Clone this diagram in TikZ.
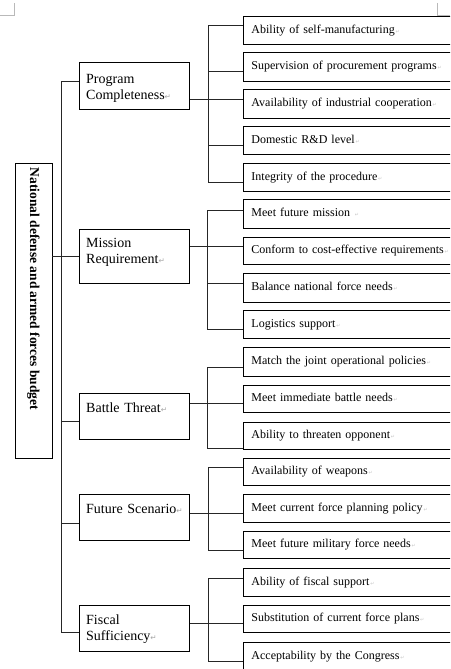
\documentclass[tikz,border=0pt]{standalone}
\usepackage{fontspec}
\setmainfont{Liberation Serif}
\newfontfamily\markfont{DejaVu Sans}
% paragraph and cell end marks
\newcommand{\parmark}{{\markfont\fontsize{7.5}{7.5}\selectfont\color{gray!70}↵}}
\newcommand{\cellmark}{{\markfont\fontsize{5}{5}\selectfont\color{gray!45}\,↵}}
\tikzset{
  rootbox/.style={draw, line width=0.9pt, inner sep=0pt, minimum width=37pt, minimum height=295pt},
  roottext/.style={rotate=-90, anchor=west, inner sep=0pt, font=\bfseries\fontsize{13.5}{15}\selectfont},
  catbox/.style={draw, line width=0.9pt, anchor=north west, inner sep=0pt, minimum width=110pt},
  cattext/.style={anchor=base west, inner sep=0pt, text width=100pt, align=left, font=\fontsize{14}{16.5}\selectfont},
  leafbox/.style={draw, line width=0.9pt, anchor=north west, text width=204pt, align=left,
    inner xsep=8pt, inner ysep=0pt, text height=8.5pt, text depth=2.5pt,
    font=\fontsize{12}{14}\selectfont},
  link/.style={draw=black!85, line width=0.8pt},
  cornermark/.style={draw=gray!55, line width=0.8pt}
}
\begin{document}
\begin{tikzpicture}[x=1pt, y=-1pt]
\useasboundingbox (0,0) rectangle (450,669);
\clip (0,0) rectangle (450,669);

% page corner marks
\draw[cornermark] (0,15) -- (14.5,15) -- (14.5,3);
\draw[cornermark] (437,3) -- (437,15.5) -- (450,15.5);

% root
\node[rootbox] (root) at (33.5,310.5) {};
\node[roottext] (rootlabel) at ([yshift=-5pt]root.north) {National defense and armed forces budget};

% categories
\node[catbox, minimum height=47pt] (pc) at (79,62) {};
\node[cattext] (pct) at (86,83) {Program\\Completeness\parmark};
\node[catbox, minimum height=54pt] (mr) at (79,229) {};
\node[cattext] (mrt) at (86,247) {Mission\\Requirement\parmark};
\node[catbox, minimum height=46pt] (bt) at (79,393) {};
\node[cattext] (btt) at (86,412) {Battle Threat\parmark};
\node[catbox, minimum height=46pt] (fs) at (79,494) {};
\node[cattext] (fst) at (86,513) {Future Scenario\parmark};
\node[catbox, minimum height=46pt] (fi) at (79,605) {};
\node[cattext] (fit) at (86,624) {Fiscal\\Sufficiency\parmark};

% leaves: program completeness
\node[leafbox, minimum height=28pt] (p1) at (243,16)  {Ability of self-manufacturing\cellmark};
\node[leafbox, minimum height=29pt] (p2) at (243,52)  {Supervision of procurement programs\cellmark};
\node[leafbox, minimum height=29pt] (p3) at (243,89)  {Availability of industrial cooperation\cellmark};
\node[leafbox, minimum height=28pt] (p4) at (243,126) {Domestic R\&D level\cellmark};
\node[leafbox, minimum height=28pt] (p5) at (243,163) {Integrity of the procedure\cellmark};
% leaves: mission requirement
\node[leafbox, minimum height=29pt] (m1) at (243,199) {Meet future mission \cellmark};
\node[leafbox, minimum height=27pt] (m2) at (243,237) {Conform to cost-effective requirements\cellmark};
\node[leafbox, minimum height=29pt] (m3) at (243,273) {Balance national force needs\cellmark};
\node[leafbox, minimum height=28pt] (m4) at (243,310) {Logistics support\cellmark};
% leaves: battle threat
\node[leafbox, minimum height=29pt] (b1) at (243,347) {Match the joint operational policies\cellmark};
\node[leafbox, minimum height=27pt] (b2) at (243,385) {Meet immediate battle needs\cellmark};
\node[leafbox, minimum height=27pt] (b3) at (243,422) {Ability to threaten opponent\cellmark};
% leaves: future scenario
\node[leafbox, minimum height=27pt] (f1) at (243,458) {Availability of weapons\cellmark};
\node[leafbox, minimum height=28pt] (f2) at (243,494) {Meet current force planning policy\cellmark};
\node[leafbox, minimum height=27pt] (f3) at (243,531) {Meet future military force needs\cellmark};
% leaves: fiscal sufficiency
\node[leafbox, minimum height=28pt] (s1) at (243,568) {Ability of fiscal support\cellmark};
\node[leafbox, minimum height=27pt] (s2) at (243,605) {Substitution of current force plans\cellmark};
\node[leafbox, minimum height=28pt] (s3) at (243,642) {Acceptability by the Congress\cellmark};

% trunk from root to categories
\draw[link] (root.east |- mr.west) -- (mr.west);
\draw[link] ([yshift=4.5pt]pc.west) -- ++(-18,0) |- ([yshift=-4pt]fi.west);
\draw[link] ([yshift=-5pt]bt.west) -- ++(-18,0);
\draw[link] ([yshift=-6pt]fs.west) -- ++(-18,0);

% program completeness bracket
\draw[link] ([yshift=-13.5pt]pc.east) coordinate (pcR) -- (pcR -| p3.west);
\draw[link] ([yshift=5pt]p1.west) -- ++(-35,0) |- ([yshift=-5pt]p5.west);
\draw[link] ([yshift=-4.5pt]p2.west) -- ++(-35,0);
\draw[link] ([yshift=-5pt]p4.west) -- ++(-35,0);

% mission requirement bracket
\draw[link] ([yshift=10pt]mr.east) coordinate (mrR) -- (mrR -| m2.west);
\draw[link] ([yshift=3.5pt]m1.west) -- ++(-36,0) |- ([yshift=-5pt]m4.west);
\draw[link] ([yshift=4.5pt]m3.west) -- ++(-36,0);

% battle threat bracket
\draw[link] ([yshift=13pt]bt.east) coordinate (btR) -- (btR -| b2.west);
\draw[link] ([yshift=-5.5pt]b1.west) -- ++(-36,0) |- ([yshift=-12.5pt]b3.west);

% future scenario bracket
\draw[link] ([yshift=4pt]fs.east) coordinate (fsR) -- (fsR -| f2.west);
\draw[link] ([yshift=4.5pt]f1.west) -- ++(-35,0) |- ([yshift=-5.5pt]f3.west);

% fiscal sufficiency bracket
\draw[link] ([yshift=5pt]fi.east) coordinate (fiR) -- (fiR -| s2.west);
\draw[link] ([yshift=4pt]s1.west) -- ++(-35,0) |- ([yshift=-5pt]s3.west);
\end{tikzpicture}
\end{document}
